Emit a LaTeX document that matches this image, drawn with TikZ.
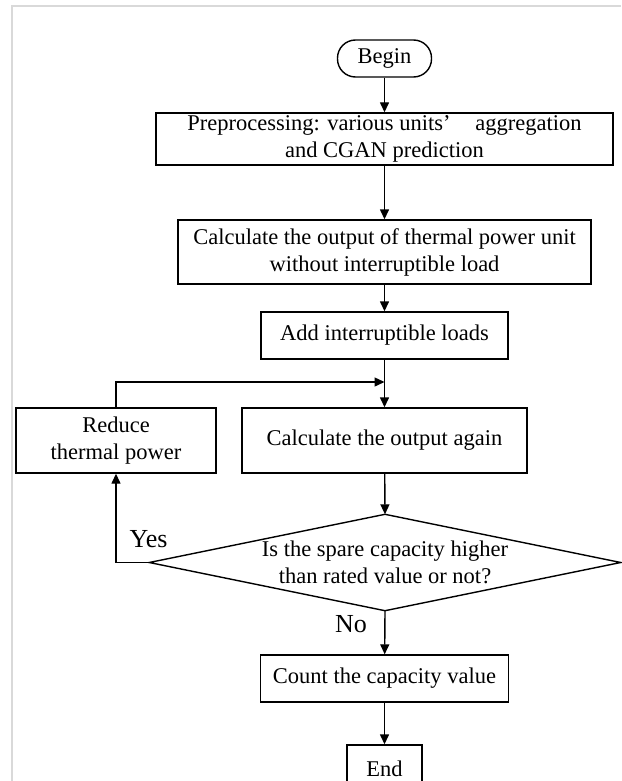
\documentclass[tikz,border=0pt]{standalone}
\usepackage{fontspec}
\setmainfont{Liberation Serif}
\usetikzlibrary{arrows.meta}

\begin{document}
\begin{tikzpicture}[x=1pt,y=-1pt,line width=1.4pt,
  >={Triangle[length=10pt,width=9pt]},
  box/.style={draw,inner sep=0pt,align=center,font=\fontsize{22.5}{27}\selectfont},
  tag/.style={inner sep=0pt,font=\fontsize{26}{30}\selectfont}]

\def\cx{384.5}

% Frame
\useasboundingbox (0,0) rectangle (621,781);
\draw[gray!30,line width=1.5pt] (12,781) -- (12,6) -- (621,6);

% Main steps
\node[box,rounded corners=18pt,minimum width=94pt,minimum height=37pt] (begin) at (\cx,58.5) {Begin};
\node[box,minimum width=457pt,minimum height=52pt] (pre) at (\cx,139)
  {Preprocessing: various units’\hspace{1.1em}aggregation\\and CGAN prediction};
\node[box,minimum width=413pt,minimum height=64pt] (calc) at (\cx,252)
  {Calculate the output of thermal power unit\\without interruptible load};
\node[box,minimum width=247pt,minimum height=47pt] (add) at (\cx,335.5) {Add interruptible loads};
\node[box,minimum width=285pt,minimum height=65pt] (again) at (\cx,440.5) {Calculate the output again};
\node[box,minimum width=200pt,minimum height=65pt] (reduce) at (116,440.5) {Reduce\\thermal power};

% Decision
\node[box,draw=none,minimum width=470pt,minimum height=95pt] (check) at (385,562.5)
  {Is the spare capacity higher\\than rated value or not?};
\draw (check.north) -- (check.east) -- (check.south) -- (check.west) -- cycle;

\node[box,minimum width=248pt,minimum height=47pt] (count) at (\cx,678.5) {Count the capacity value};
\node[box,minimum width=75pt,minimum height=47pt] (end) at (\cx,768.5) {End};

% Arrows
\coordinate (merge) at (\cx,382);
\draw[->] (begin) -- (pre);
\draw[->] (pre) -- (calc);
\draw[->] (calc) -- (add);
\draw[->] (add) -- (again);
\draw[->] (again) -- (check.north);
\draw[->] (check.south) -- (count);
\draw[->] (count) -- (end);

% Loop back
\draw[->] (check.west) -| (reduce.south);
\draw[->] (reduce.north) |- (merge);

\node[tag] (yes) at (148.5,539) {Yes};
\node[tag] (no) at (351,624) {No};

\end{tikzpicture}
\end{document}
